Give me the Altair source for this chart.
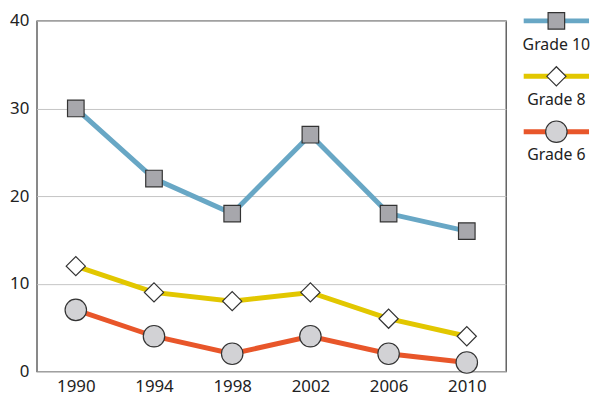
import altair as alt
import pandas as pd

years = ["1990", "1994", "1998", "2002", "2006", "2010"]
grade10 = [30, 22, 18, 27, 18, 16]
grade8 = [12, 9, 8, 9, 6, 4]
grade6 = [7, 4, 2, 4, 2, 1]

grades = ["Grade 10", "Grade 8", "Grade 6"]
line_colors = ["#68a7c5", "#e2c700", "#e8562a"]
marker_fills = ["#a7a7ac", "#ffffff", "#d2d2d5"]
marker_shapes = ["square", "diamond", "circle"]
marker_sizes = [280, 470, 400]
y_ticks = [0, 10, 20, 30, 40]

FONT = "Noto Sans"

rows = []
for g, vals in zip(grades, [grade10, grade8, grade6]):
    for yr, v in zip(years, vals):
        rows.append({"year": yr, "grade": g, "value": v})
df = pd.DataFrame(rows)

color_scale = alt.Scale(domain=grades, range=line_colors)
fill_scale = alt.Scale(domain=grades, range=marker_fills)
shape_scale = alt.Scale(domain=grades, range=marker_shapes)
size_scale = alt.Scale(domain=grades, range=marker_sizes)

x_enc = alt.X("year:O", sort=years,
              scale=alt.Scale(type="point", padding=0.5),
              axis=alt.Axis(title=None, labelAngle=0, ticks=False, domain=False,
                            labelFontSize=17, labelFont=FONT, labelColor="#222",
                            labelPadding=7, grid=False))
y_enc = alt.Y("value:Q", scale=alt.Scale(domain=[0, 40], nice=False),
              axis=alt.Axis(title=None, values=y_ticks, ticks=False, domain=False,
                            labelFontSize=17, labelFont=FONT, labelColor="#222",
                            labelPadding=8, grid=True, gridColor="#c4c4c4",
                            gridWidth=1))

base = alt.Chart(df)
lines = base.mark_line(strokeWidth=5).encode(
    x=x_enc, y=y_enc,
    color=alt.Color("grade:N", scale=color_scale, legend=None),
    detail="grade:N",
)
points = base.mark_point(filled=True, opacity=1, stroke="#333333", strokeWidth=1.2).encode(
    x=x_enc, y=y_enc,
    shape=alt.Shape("grade:N", scale=shape_scale, legend=None),
    fill=alt.Fill("grade:N", scale=fill_scale, legend=None),
    size=alt.Size("grade:N", scale=size_scale, legend=None),
)
main = alt.layer(lines, points).properties(
    width=474, height=354,
    view=alt.ViewBackground(stroke="#3a3a3a", strokeWidth=1.2),
)

leg = pd.DataFrame({"grade": grades, "idx": [0, 1, 2],
                    "x0": [0, 0, 0], "x1": [1, 1, 1], "xm": [0.5, 0.5, 0.5]})
lx = alt.Scale(domain=[0, 1], range=[0, 66])
ly = alt.Scale(domain=[0, 2], range=[0, 112])
lbase = alt.Chart(leg)
lrule = lbase.mark_rule(strokeWidth=5).encode(
    x=alt.X("x0:Q", scale=lx, axis=None), x2="x1:Q",
    y=alt.Y("idx:Q", scale=ly, axis=None),
    color=alt.Color("grade:N", scale=color_scale, legend=None),
)
lpts = lbase.mark_point(filled=True, opacity=1, stroke="#333333", strokeWidth=1.2).encode(
    x=alt.X("xm:Q", scale=lx, axis=None),
    y=alt.Y("idx:Q", scale=ly, axis=None),
    shape=alt.Shape("grade:N", scale=shape_scale, legend=None),
    fill=alt.Fill("grade:N", scale=fill_scale, legend=None),
    size=alt.Size("grade:N", scale=size_scale, legend=None),
)
ltext = lbase.mark_text(dy=24, fontSize=16, font=FONT, color="#222").encode(
    x=alt.X("xm:Q", scale=lx, axis=None),
    y=alt.Y("idx:Q", scale=ly, axis=None),
    text="grade:N",
)
legend = alt.layer(lrule, lpts, ltext).properties(
    width=66, height=354,
    view=alt.ViewBackground(strokeOpacity=0),
)

chart = alt.hconcat(main, legend, spacing=14).properties(
    padding={"top": 0, "left": 0, "right": 0, "bottom": 0},
    background="white",
)
chart.save("out.html", embed_options={"renderer": "svg", "actions": False})
